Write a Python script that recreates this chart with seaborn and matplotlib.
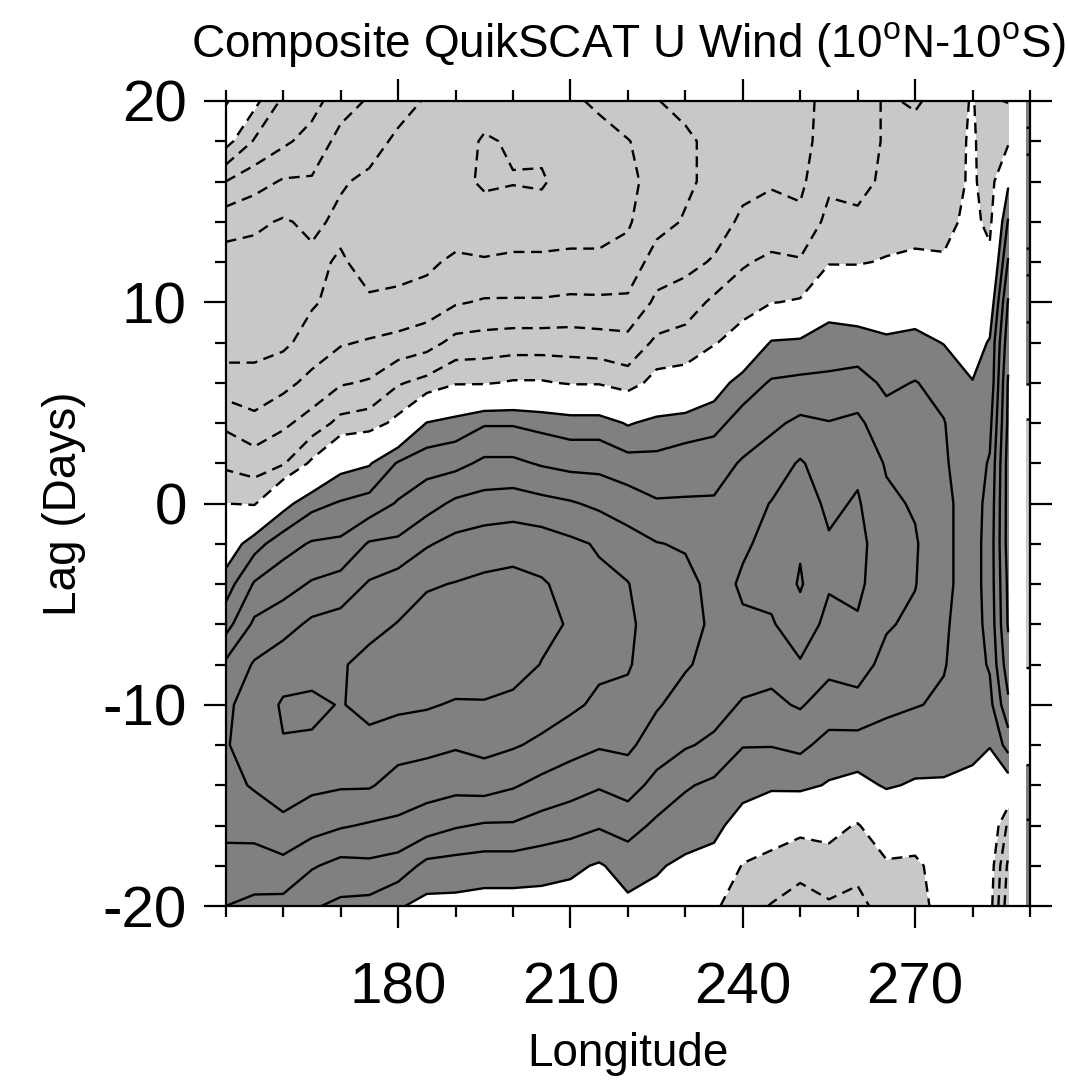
import numpy as np
import matplotlib
matplotlib.use("Agg")
import matplotlib.pyplot as plt
import seaborn as sns

# ---------------- data (m/s), rows are lags from +20 down to -20 ----------------
lags = [20, 18, 16, 14, 12, 10, 8, 6, 4, 2, 0, -2, -4, -6, -8, -10, -12, -14, -16, -18, -20]

u150 = [0.6, -0.3, -1.5, -2.3, -2.7, -2.85, -2.7, -2.3, -1.6, -1.1, -0.5, 0.1, 0.75, 1.3, 2.1, 2.4, 2.45, 2.35, 2.15, 1.8, 1.5]
u155 = [-0.35, -1.05, -1.8, -2.4, -2.7, -2.8, -2.65, -2.35, -1.85, -1.25, -0.55, 0.8, 1.55, 2.1, 2.55, 2.75, 2.8, 2.55, 2.2, 1.75, 1.4]
u160 = [-1.1, -1.4, -2.05, -2.55, -2.75, -2.75, -2.6, -2.15, -1.6, -1.05, 0.3, 1.3, 1.8, 2.3, 2.8, 3.05, 2.98, 2.7, 2.4, 1.85, 1.35]
u165 = [-1.3, -1.7, -2.05, -2.4, -2.6, -2.55, -2.3, -1.85, -1.3, -0.4, 0.85, 1.55, 2.05, 2.6, 2.85, 3.08, 2.95, 2.6, 2.2, 1.55, 1.05]
u170 = [-1.8, -2.15, -2.45, -2.6, -2.45, -2.35, -2.05, -1.55, -0.85, 0.3, 1.05, 1.6, 2.2, 2.7, 2.95, 2.98, 2.85, 2.55, 2.05, 1.35, 0.9]
u175 = [-2.05, -2.3, -2.6, -2.7, -2.65, -2.45, -1.95, -1.45, -0.75, 0.45, 1.2, 2.05, 2.55, 2.85, 3.15, 3.1, 2.9, 2.55, 1.95, 1.4, 0.85]
u180 = [-2.3, -2.6, -2.75, -2.8, -2.65, -2.4, -1.85, -1.05, -0.35, 1.05, 1.55, 2.1, 2.75, 3.02, 3.2, 3.1, 2.7, 2.3, 1.9, 1.3, 0.55]
u185 = [-2.55, -2.7, -2.8, -2.8, -2.6, -2.3, -1.7, -0.85, 0.52, 1.3, 1.8, 2.45, 2.95, 3.2, 3.3, 3.05, 2.65, 2.2, 1.75, 0.85, 0.35]
u190 = [-2.65, -2.8, -2.9, -2.8, -2.4, -2.05, -1.35, -0.55, 0.7, 1.35, 2.1, 2.65, 3.02, 3.3, 3.3, 2.95, 2.55, 2.15, 1.55, 0.8, 0.35]
u195 = [-2.8, -3.05, -3.05, -2.85, -2.45, -1.95, -1.3, -0.55, 0.95, 1.6, 2.2, 2.75, 3.1, 3.35, 3.35, 2.95, 2.65, 2.2, 1.45, 0.75, 0.3]
u200 = [-2.8, -2.95, -3.02, -2.8, -2.4, -1.95, -1.25, -0.45, 0.95, 1.6, 2.25, 2.8, 3.15, 3.35, 3.25, 2.85, 2.55, 2.05, 1.45, 0.75, 0.3]
u205 = [-2.75, -2.9, -3.05, -2.8, -2.4, -1.95, -1.25, -0.45, 0.85, 1.45, 2.15, 2.75, 3.05, 3.15, 2.98, 2.75, 2.4, 1.85, 1.3, 0.7, 0.3]
u210 = [-2.55, -2.75, -2.8, -2.7, -2.4, -1.9, -1.25, -0.55, 0.75, 1.35, 2.05, 2.6, 2.85, 2.95, 2.85, 2.6, 2.2, 1.7, 1.2, 0.6, 0.3]
u215 = [-2.45, -2.6, -2.65, -2.6, -2.45, -1.9, -1.3, -0.55, 0.75, 1.35, 1.9, 2.45, 2.6, 2.7, 2.6, 2.4, 2.05, 1.55, 1.05, 0.45, 0.2]
u220 = [-2.2, -2.52, -2.6, -2.55, -2.35, -1.9, -1.35, -0.75, 0.45, 1.2, 1.75, 2.2, 2.52, 2.6, 2.55, 2.35, 2.1, 1.7, 1.2, 0.7, 0.4]
u225 = [-2.02, -2.3, -2.35, -2.2, -1.75, -1.4, -0.9, -0.3, 0.65, 1.15, 1.55, 2.02, 2.15, 2.25, 2.2, 2.05, 1.75, 1.35, 0.9, 0.55, 0.35]
u230 = [-1.85, -2.1, -2.1, -1.95, -1.65, -1.25, -0.8, -0.25, 0.75, 1.25, 1.55, 1.95, 2.15, 2.2, 2.05, 1.8, 1.55, 1.05, 0.75, 0.4, 0.2]
u235 = [-1.8, -1.85, -1.85, -1.75, -1.45, -0.9, -0.55, 0.2, 0.85, 1.3, 1.55, 1.75, 1.85, 1.9, 1.85, 1.7, 1.4, 0.9, 0.65, 0.3, -0.4]
u240 = [-1.7, -1.75, -1.65, -1.4, -1.05, -0.75, -0.2, 0.75, 1.2, 1.55, 1.8, 1.95, 2.05, 1.95, 1.75, 1.45, 1.02, 0.7, 0.25, -0.55, -0.85]
u245 = [-1.75, -1.7, -1.55, -1.3, -0.9, -0.52, 0.55, 1.05, 1.4, 1.75, 2.02, 2.1, 2.15, 1.95, 1.65, 1.4, 1.02, 0.6, -0.1, -0.75, -1.02]
u250 = [-1.65, -1.65, -1.6, -1.4, -0.95, -0.45, 0.6, 1.1, 1.6, 2.05, 2.25, 2.45, 2.55, 2.3, 1.95, 1.55, 1.1, 0.65, -0.35, -0.85, -1.2]
u255 = [-1.35, -1.3, -1.1, -0.85, -0.55, 0.25, 0.75, 1.1, 1.52, 1.75, 1.9, 2.05, 2.05, 1.85, 1.65, 1.25, 0.85, 0.45, -0.3, -0.75, -1.05]
u260 = [-1.2, -1.2, -1.15, -0.9, -0.55, 0.2, 0.7, 1.2, 1.6, 1.9, 2.05, 2.15, 2.1, 1.95, 1.7, 1.35, 0.8, 0.35, -0.55, -0.9, -1.1]
u265 = [-0.95, -0.95, -0.9, -0.8, -0.45, 0.1, 0.6, 0.9, 1.2, 1.45, 1.6, 1.7, 1.7, 1.55, 1.35, 1.1, 0.8, 0.55, 0.02, -0.6, -0.85]
u270 = [-1.05, -0.85, -0.8, -0.7, -0.4, 0.2, 0.65, 1.02, 1.15, 1.3, 1.45, 1.55, 1.52, 1.4, 1.25, 1.02, 0.75, 0.45, -0.05, -0.65, -0.7]
u275 = [-0.85, -0.85, -0.8, -0.65, -0.45, 0.05, 0.48, 0.85, 1.02, 1.05, 1.1, 1.1, 1.1, 1.05, 1.02, 0.95, 0.7, 0.45, 0.15, -0.15, -0.3]
u280 = [-0.45, -0.4, -0.4, -0.35, -0.2, 0.02, 0.25, 0.52, 0.65, 0.75, 0.8, 0.8, 0.8, 0.8, 0.8, 0.75, 0.6, 0.4, 0.2, -0.05, -0.2]
u283 = [-0.95, -0.9, -0.8, -0.65, -0.35, 0.1, 0.55, 0.6, 0.85, 1.05, 1.15, 1.2, 1.2, 1.15, 1.05, 0.85, 0.52, 0.25, 0.05, -0.2, -0.3]
u286 = [-1.02, -0.6, 0.4, 1.05, 1.55, 2.05, 2.3, 2.55, 2.6, 2.7, 2.7, 2.7, 2.6, 2.55, 2.3, 1.9, 1.2, 0.2, -1.1, -1.6, -1.8]
u_edge = [1.2, 0.9, 1.2, 1.2, 0.9, 1.2, 0.8, 0.55, -0.6, -0.8, -0.8, -0.8, -0.8, -0.7, -0.55, 0.02, 0.3, 0.7, 1.05, 1.2, 1.2]

lons_sea = [150, 155, 160, 165, 170, 175, 180, 185, 190, 195, 200, 205, 210, 215,
            220, 225, 230, 235, 240, 245, 250, 255, 260, 265, 270, 275, 280, 283, 286.2]
lons_land = [286.4, 289.2]          # no data (land)
lons_edge = [289.4, 290]

xticks_major = [180, 210, 240, 270]
yticks_major = [-20, -10, 0, 10, 20]
title = "Composite QuikSCAT U Wind (10$^{\\mathrm{o}}$N-10$^{\\mathrm{o}}$S)"

# ---------------- assemble field ----------------
sea_cols = [u150, u155, u160, u165, u170, u175, u180, u185, u190, u195, u200, u205,
            u210, u215, u220, u225, u230, u235, u240, u245, u250, u255, u260, u265,
            u270, u275, u280, u283, u286]
cols = sea_cols + [[np.nan] * len(lags)] * len(lons_land) + [u_edge] * len(lons_edge)
lon_all = np.array(lons_sea + lons_land + lons_edge, dtype=float)
field = np.array(cols, dtype=float).T            # shape (nlag, nlon)
lag_arr = np.array(lags, dtype=float)[::-1]
field = np.ma.masked_invalid(field[::-1, :])

# ---------------- style ----------------
sns.set_style("ticks")
plt.rcParams["font.family"] = ["Liberation Sans", "DejaVu Sans"]
plt.rcParams["mathtext.fontset"] = "custom"
plt.rcParams["mathtext.rm"] = "Liberation Sans"
plt.rcParams["mathtext.it"] = "Liberation Sans"
for key in ["text.color", "axes.labelcolor", "xtick.color", "ytick.color", "axes.edgecolor"]:
    plt.rcParams[key] = "black"

fig = plt.figure(figsize=(10.68, 10.83), dpi=100)
ax = fig.add_axes([225.7 / 1068, 1 - 906 / 1083, (1030 - 225.7) / 1068, (906 - 101) / 1083])

fill_colors = ["#c8c8c8", "#ffffff", "#808080"]
ax.contourf(lon_all, lag_arr, field, levels=[-10, -0.5, 0.5, 10], colors=fill_colors)

pos_levels = [0.5, 1.0, 1.5, 2.0, 2.5, 3.0, 3.5]
neg_levels = [-3.5, -3.0, -2.5, -2.0, -1.5, -1.0, -0.5]
ax.contour(lon_all, lag_arr, field, levels=pos_levels, colors="black",
           linewidths=1.7, linestyles="solid")
ax.contour(lon_all, lag_arr, field, levels=neg_levels, colors="black",
           linewidths=1.7, linestyles=[(0, (4.6, 2.8))])

ax.set_xlim(150, 290)
ax.set_ylim(-20, 20)
ax.set_xticks(xticks_major)
ax.set_xticks(np.arange(150, 291, 10), minor=True)
ax.set_yticks(yticks_major)
ax.set_yticks(np.arange(-20, 21, 2), minor=True)
ax.set_xticklabels([str(v) for v in xticks_major])
ax.set_yticklabels([str(v) for v in yticks_major])

ax.tick_params(which="both", direction="out", top=True, right=True, width=1.6,
               color="black")
ax.tick_params(which="major", length=16)
ax.tick_params(which="minor", length=8)
ax.tick_params(axis="x", which="major", labelsize=42, pad=24)
ax.tick_params(axis="y", which="major", labelsize=42, pad=12)
for sp in ax.spines.values():
    sp.set_linewidth(1.6)
    sp.set_color("black")

ax.set_xlabel("Longitude", fontsize=33, labelpad=12)
ax.set_ylabel("Lag (Days)", fontsize=33, labelpad=12)
ax.set_title(title, fontsize=33, pad=32)

fig.savefig("out.png", dpi=100, facecolor="white")
